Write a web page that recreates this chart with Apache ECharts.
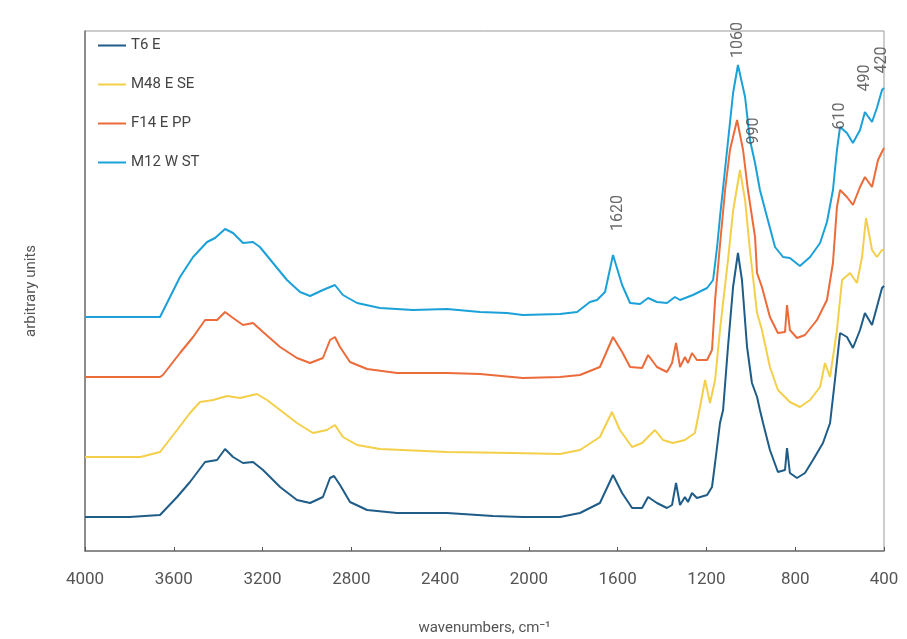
<!DOCTYPE html>
<html>
<head>
<meta charset="utf-8">
<script src="https://cdn.jsdelivr.net/npm/echarts@6/dist/echarts.min.js"></script>
<style>
  html, body { margin: 0; padding: 0; background: #ffffff; }
  #chart { width: 907px; height: 639px; }
</style>
</head>
<body>
<div id="chart"></div>
<script>
// spectra: [wavenumber, intensity (arbitrary, offset)]
const t6E = [
  [4000, 34], [3800, 34], [3662, 36], [3585, 54], [3527, 69], [3459, 89], [3405, 91], [3369, 102],
  [3333, 94], [3288, 88], [3243, 89], [3198, 81], [3121, 64], [3045, 51], [2986, 48], [2928, 54],
  [2896, 73], [2878, 75], [2851, 66], [2806, 49], [2729, 41], [2594, 38], [2369, 38], [2162, 35],
  [2027, 34], [1860, 34], [1770, 38], [1680, 48], [1621, 76], [1580, 58], [1535, 43], [1490, 43],
  [1463, 54], [1423, 48], [1378, 43], [1355, 46], [1337, 68], [1319, 46], [1297, 54], [1283, 49],
  [1265, 58], [1243, 53], [1197, 56], [1175, 64], [1161, 88], [1139, 128], [1125, 141], [1103, 204],
  [1080, 264], [1058, 298], [1040, 271], [1017, 204], [995, 168], [972, 154], [959, 141], [945, 128],
  [914, 101], [878, 79], [846, 81], [837, 103], [824, 78], [792, 73], [756, 78], [720, 91],
  [675, 108], [643, 128], [621, 171], [598, 218], [567, 214], [540, 203], [508, 221], [486, 238],
  [454, 226], [432, 244], [409, 263], [400, 265]
];
const m48ESE = [
  [4000, 94], [3750, 94], [3662, 99], [3585, 121], [3527, 138], [3482, 149], [3423, 151], [3360, 155],
  [3302, 153], [3225, 157], [3180, 151], [3121, 141], [3045, 128], [2973, 118], [2910, 121], [2874, 126],
  [2838, 114], [2774, 106], [2671, 102], [2369, 99], [2072, 98], [1860, 97], [1770, 101], [1680, 114],
  [1626, 139], [1590, 121], [1535, 104], [1490, 108], [1432, 121], [1396, 111], [1351, 108], [1297, 111],
  [1252, 118], [1229, 144], [1206, 171], [1184, 148], [1161, 171], [1139, 221], [1103, 291], [1080, 340],
  [1049, 381], [1026, 351], [1004, 301], [972, 238], [950, 221], [914, 184], [878, 161], [824, 149],
  [779, 144], [733, 151], [688, 164], [666, 188], [643, 174], [612, 221], [589, 271], [553, 278],
  [522, 268], [499, 294], [481, 333], [454, 301], [432, 294], [409, 301], [400, 301]
];
const f14EPP = [
  [4000, 174], [3662, 174], [3649, 176], [3572, 198], [3513, 214], [3459, 231], [3405, 231], [3369, 239],
  [3333, 233], [3288, 226], [3243, 228], [3198, 219], [3121, 204], [3045, 193], [2986, 188], [2928, 193],
  [2896, 211], [2874, 214], [2851, 204], [2806, 189], [2729, 182], [2594, 178], [2369, 178], [2220, 177],
  [2027, 173], [1860, 174], [1770, 176], [1680, 184], [1621, 214], [1580, 199], [1544, 184], [1490, 183],
  [1463, 196], [1423, 184], [1378, 179], [1355, 188], [1337, 208], [1319, 184], [1297, 194], [1283, 188],
  [1265, 198], [1243, 191], [1197, 191], [1175, 201], [1161, 251], [1139, 306], [1116, 361], [1094, 401],
  [1062, 431], [1035, 401], [1013, 361], [981, 314], [972, 278], [950, 264], [914, 234], [878, 218],
  [846, 219], [837, 246], [824, 221], [792, 213], [756, 216], [702, 231], [657, 251], [630, 288],
  [612, 344], [598, 361], [567, 354], [540, 346], [508, 364], [486, 374], [454, 364], [427, 391],
  [405, 401], [400, 403]
];
const m12WST = [
  [4000, 234], [3800, 234], [3662, 234], [3572, 274], [3513, 294], [3450, 309], [3414, 313], [3369, 322],
  [3333, 318], [3288, 308], [3243, 309], [3212, 304], [3153, 288], [3090, 271], [3031, 259], [2986, 255],
  [2928, 261], [2874, 266], [2838, 256], [2774, 248], [2671, 243], [2522, 241], [2369, 242], [2220, 239],
  [2099, 238], [2027, 236], [1860, 237], [1783, 239], [1725, 249], [1693, 251], [1657, 259], [1621, 296],
  [1580, 266], [1544, 248], [1499, 247], [1463, 253], [1423, 249], [1378, 248], [1342, 254], [1319, 251],
  [1261, 256], [1197, 263], [1170, 271], [1152, 304], [1139, 334], [1107, 401], [1080, 458], [1058, 486],
  [1026, 454], [1004, 411], [981, 388], [959, 361], [927, 334], [891, 304], [855, 294], [824, 293],
  [779, 285], [733, 294], [688, 308], [657, 329], [630, 361], [612, 401], [598, 424], [567, 418],
  [540, 408], [508, 421], [486, 439], [454, 429], [432, 443], [409, 461], [400, 463]
];

const seriesNames = ['T6 E', 'M48 E SE', 'F14 E PP', 'M12 W ST'];
const seriesColors = ['#1f5c87', '#f4cf4a', '#ec6b3a', '#1ba1d8'];
const seriesData = [t6E, m48ESE, f14EPP, m12WST];

// peak labels: [wavenumber, label centre height]
const peakLabels = ['1620', '1060', '990', '610', '490', '420'];
const peakPositions = [[1600, 338], [1060, 511], [985, 420], [600, 435], [485, 473], [410, 491]];

const chart = echarts.init(document.getElementById('chart'));
const font = 'Roboto, "DejaVu Sans", sans-serif';

const lines = seriesData.map((d, i) => ({
  name: seriesNames[i],
  type: 'line',
  data: d,
  showSymbol: false,
  symbol: 'none',
  lineStyle: { color: seriesColors[i], width: 2 },
  itemStyle: { color: seriesColors[i] },
  animation: false
}));

const option = {
  backgroundColor: '#ffffff',
  animation: false,
  grid: {
    left: 85, right: 23, top: 31, bottom: 88,
    outerBoundsMode: 'none',
    show: true,
    borderColor: '#9a9a9a',
    borderWidth: 1
  },
  legend: {
    orient: 'vertical',
    left: 93,
    top: 33,
    icon: 'rect',
    itemWidth: 28,
    itemHeight: 2,
    itemGap: 24,
    data: seriesNames,
    textStyle: { color: '#444', fontSize: 15, fontFamily: font }
  },
  xAxis: {
    type: 'value',
    inverse: true,
    min: 400,
    max: 4000,
    interval: 400,
    name: 'wavenumbers, cm\u207B\u00B9',
    nameLocation: 'middle',
    nameGap: 70,
    nameTextStyle: { color: '#555', fontSize: 15, fontFamily: font },
    axisLine: { lineStyle: { color: '#777', width: 1.5 } },
    axisTick: { inside: true, length: 4, lineStyle: { color: '#555' } },
    axisLabel: { color: '#555', fontSize: 17, margin: 20, fontFamily: font, formatter: v => String(v) },
    splitLine: { show: false }
  },
  yAxis: {
    type: 'value',
    min: 0,
    max: 520,
    name: 'arbitrary units',
    nameLocation: 'middle',
    nameGap: 46,
    nameTextStyle: { color: '#555', fontSize: 15, fontFamily: font },
    axisLine: { show: true, lineStyle: { color: '#777', width: 1.5 } },
    axisTick: { show: false },
    axisLabel: { show: false },
    splitLine: { show: false }
  },
  series: lines.concat([{
    type: 'scatter',
    symbolSize: 0,
    silent: true,
    z: 10,
    data: peakPositions.map((p, i) => ({ value: p, name: peakLabels[i] })),
    label: {
      show: true,
      position: 'inside',
      rotate: 90,
      formatter: p => p.name,
      color: '#444',
      fontSize: 16,
      fontFamily: font
    }
  }])
};

chart.setOption(option);
</script>
</body>
</html>
